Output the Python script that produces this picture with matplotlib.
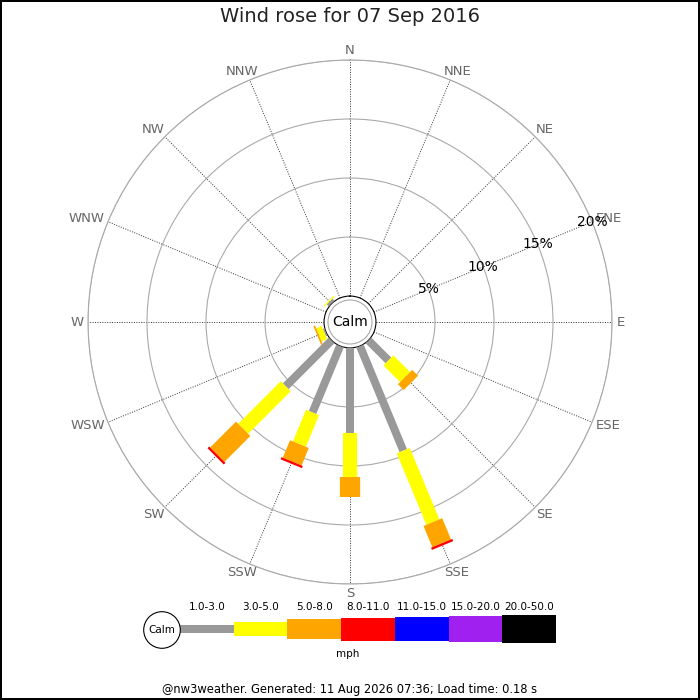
import numpy as np
import matplotlib
matplotlib.use("Agg")
import matplotlib.pyplot as plt
from matplotlib.patches import Circle

# ------------------------------------------------------------
# Data (percent of time per direction and speed bin)
# ------------------------------------------------------------
directions = ["N", "NNE", "NE", "ENE", "E", "ESE", "SE", "SSE",
              "S", "SSW", "SW", "WSW", "W", "WNW", "NW", "NNW"]
speed_bins = ["1.0-3.0", "3.0-5.0", "5.0-8.0", "8.0-11.0",
              "11.0-15.0", "15.0-20.0", "20.0-50.0"]
bin_colors = ["#999999", "#ffff00", "#ffa500", "#ff0000",
              "#0000ff", "#a020f0", "#000000"]

# percent per bin, one list per speed bin, in direction order (N .. NNW)
pct_1_3 = [0, 0, 0, 0, 0, 0, 2.4, 9.6, 7.2, 6.1, 5.5, 0.15, 0, 0, 0.25, 0]
pct_3_5 = [0, 0, 0, 0, 0, 0, 2.0, 6.55, 3.7, 2.9, 5.1, 0.5, 0, 0, 0.1, 0]
pct_5_8 = [0, 0, 0, 0, 0, 0, 0.7, 1.95, 1.7, 1.6, 3.1, 0.15, 0, 0, 0, 0]
pct_8_11 = [0, 0, 0, 0, 0, 0, 0, 0.2, 0, 0.2, 0.2, 0, 0, 0, 0, 0]

ring_values = [5, 10, 15, 20]
ring_labels = ["5%", "10%", "15%", "20%"]

title = "Wind rose for 07 Sep 2016"
footer = "@nw3weather. Generated: 11 Aug 2026 07:36; Load time: 0.18 s"

# bar thickness in points per speed bin
bin_widths = [5.8, 10.2, 14.6, 16.6, 17.4, 18.8, 20.4]

# ------------------------------------------------------------
# Figure
# ------------------------------------------------------------
fig = plt.figure(figsize=(7, 7), dpi=100, edgecolor="black", linewidth=1.5)
fig.text(0.5, 1 - 17 / 700, title, ha="center", va="center",
         fontsize=14, color="#222222")

R = 262  # outer ring radius in px
cx, cy = 350, 322
ax = fig.add_axes([(cx - R) / 700, (700 - cy - R) / 700, 2 * R / 700, 2 * R / 700],
                  projection="polar")
ax.set_theta_zero_location("N")
ax.set_theta_direction(-1)
ax.set_ylim(0, 20)
ax.set_rorigin(-2.2)

angles = np.arange(16) * 22.5
thetas = np.deg2rad(angles)
ax.set_xticks(thetas)
ax.set_xticklabels([])
ax.set_yticks(ring_values)
ax.set_yticklabels([])
ax.xaxis.grid(True, color="#333333", linestyle=(0, (1, 1.5)), linewidth=0.7)
ax.yaxis.grid(True, color="#aaaaaa", linestyle="-", linewidth=0.8)
ax.spines["polar"].set_color("#aaaaaa")
ax.spines["polar"].set_linewidth(0.8)
ax.spines["inner"].set_visible(False)

# compass labels: pushed outward by half their size along the direction
renderer = fig.canvas.get_renderer()
pt_per_px = 72 / fig.dpi
for th, name in zip(thetas, directions):
    t = ax.annotate(name, xy=(th, 20.4), xytext=(0, 0),
                    textcoords="offset points", ha="center", va="center",
                    fontsize=9.5, color="#666666", annotation_clip=False)
    bb = t.get_window_extent(renderer)
    dx = np.sin(th) * bb.width / 2 * pt_per_px
    dy = np.cos(th) * bb.height * 0.375 * pt_per_px
    t.xyann = (dx, dy)

# percent labels along ENE
lab_theta = np.deg2rad(67.5)
for v, s in zip(ring_values, ring_labels):
    ax.text(lab_theta, v, s, ha="center", va="center", fontsize=10,
            color="black", zorder=6)

# stacked bars as thick butt-capped lines
series = [pct_1_3, pct_3_5, pct_5_8, pct_8_11]
base = np.zeros(16)
for k, vals in enumerate(series):
    vals = np.array(vals, dtype=float)
    for i in range(16):
        if vals[i] > 0:
            ax.plot([thetas[i], thetas[i]], [base[i], base[i] + vals[i]],
                    color=bin_colors[k], linewidth=bin_widths[k],
                    solid_capstyle="butt", zorder=4 + k * 0.01)
    base += vals

# calm circle
calm = Circle((0.5, 0.5), 22 / (2 * R), transform=ax.transAxes,
              facecolor="white", edgecolor="#aaaaaa", linewidth=0.8,
              zorder=5, clip_on=False)
ax.add_patch(calm)
ax.text(0.5, 0.5, "Calm", transform=ax.transAxes, ha="center",
        va="center", fontsize=10, zorder=6)

# ------------------------------------------------------------
# Legend (key)
# ------------------------------------------------------------
lax = fig.add_axes([140 / 700, 40 / 700, 420 / 700, 60 / 700])
lax.set_xlim(0, 420)
lax.set_ylim(60, 0)
lax.set_aspect("equal")
lax.axis("off")

seg = 53.7
x0 = 40
yc = 29
heights = [8, 14, 20, 23, 24, 26.5, 28.5]
for i, (lab, col) in enumerate(zip(speed_bins, bin_colors)):
    h = heights[i]
    lax.bar(x0 + i * seg, h, width=seg, bottom=yc - h / 2, align="edge",
            color=col, linewidth=0)
    lax.text(x0 + (i + 0.5) * seg, 7, lab, ha="center", va="center",
             fontsize=7.5, color="black")
lax.add_patch(Circle((22, 30), 18.3, facecolor="white", edgecolor="black",
                     linewidth=0.8))
lax.text(22, 30, "Calm", ha="center", va="center", fontsize=7.5)
lax.text(208, 54, "mph", ha="center", va="center", fontsize=7.5)

fig.text(0.5, 1 - 690 / 700, footer, ha="center", va="center",
         fontsize=8.3, color="black")

fig.savefig("out.png", dpi=100)
